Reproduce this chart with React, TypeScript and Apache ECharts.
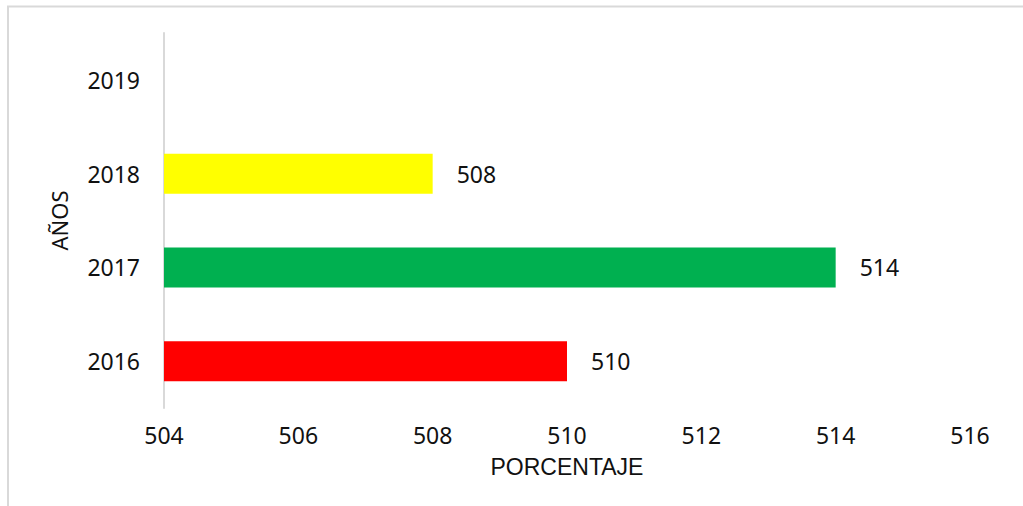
import React, { useEffect, useRef } from "react";
import * as echarts from "echarts";

const categories = ["2016", "2017", "2018", "2019"];
const values: (number | null)[] = [510, 514, 508, null];
const barColors = ["#FF0000", "#00B050", "#FFFF00", "#FFFFFF"];
const xMin = 504;
const xMax = 516;
const xInterval = 2;
const xName = "PORCENTAJE";
const yName = "AÑOS";

const FONT = "'Noto Sans', sans-serif";
const TEXT = "#111111";

export default function App() {
  const ref = useRef<HTMLDivElement>(null);
  useEffect(() => {
    if (!ref.current) return;
    const chart = echarts.init(ref.current, undefined, { renderer: "svg" });
    chart.setOption({
      animation: false,
      backgroundColor: "#ffffff",
      textStyle: { fontFamily: FONT },
      graphic: [
        {
          type: "line",
          shape: { x1: 7, y1: 6.5, x2: 1023, y2: 6.5 },
          style: { stroke: "#d9d9d9", lineWidth: 2 },
        },
        {
          type: "line",
          shape: { x1: 8, y1: 6, x2: 8, y2: 506 },
          style: { stroke: "#d9d9d9", lineWidth: 2 },
        },
      ],
      grid: { left: 164, right: 53, top: 33, bottom: 98, containLabel: false },
      xAxis: {
        type: "value",
        min: xMin,
        max: xMax,
        interval: xInterval,
        name: xName,
        nameLocation: "middle",
        nameGap: 47,
        nameTextStyle: {
          fontSize: 23,
          color: TEXT,
          fontFamily: "'Liberation Sans', sans-serif",
        },
        axisLine: { show: false },
        axisTick: { show: false },
        splitLine: { show: false },
        axisLabel: { fontSize: 23, color: TEXT, margin: 15, fontFamily: FONT },
      },
      yAxis: {
        type: "category",
        data: categories,
        name: yName,
        nameLocation: "middle",
        nameGap: 94,
        nameRotate: 90,
        nameTextStyle: { fontSize: 22, color: TEXT, fontFamily: FONT },
        axisLine: { show: true, lineStyle: { color: "#d9d9d9", width: 2 } },
        axisTick: { show: false },
        axisLabel: { fontSize: 23, color: TEXT, margin: 24, fontFamily: FONT },
      },
      series: [
        {
          type: "bar",
          barWidth: 40,
          clip: true,
          data: values.map((v, i) =>
            v == null ? null : { value: v, itemStyle: { color: barColors[i] } }
          ),
          label: {
            show: true,
            position: "right",
            distance: 24,
            fontSize: 23,
            color: TEXT,
            fontFamily: FONT,
          },
        },
      ],
    });
    return () => chart.dispose();
  }, []);
  return (
    <div
      ref={ref}
      style={{ position: "fixed", left: 0, top: 0, width: 1023, height: 506 }}
    />
  );
}
